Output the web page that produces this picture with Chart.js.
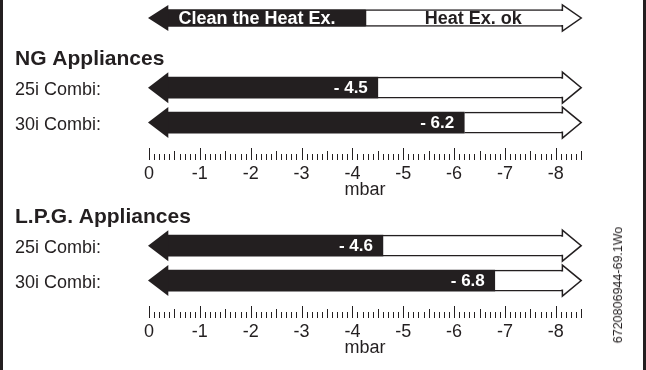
<!DOCTYPE html>
<html>
<head>
<meta charset="utf-8">
<script src="https://cdn.jsdelivr.net/npm/chart.js@4.4.1/dist/chart.umd.min.js"></script>
<style>
html, body { margin: 0; padding: 0; background: #fff; }
#wrap { position: relative; width: 646px; height: 370px; overflow: hidden; background: #fff; font-family: "Liberation Sans", Arial, sans-serif; }
canvas { position: absolute; left: 0; }
#bl { position: absolute; left: 0; top: 0; width: 2.5px; height: 370px; background: #231f20; }
#br { position: absolute; left: 642.5px; top: 0; width: 3.5px; height: 370px; background: #231f20; }
#code { position: absolute; left: 617.5px; top: 285px; transform: translate(-50%, -50%) rotate(-90deg); font-size: 12.5px; white-space: nowrap; color: #231f20; }
</style>
</head>
<body>
<div id="wrap">
  <canvas id="cTop" width="646" height="40" style="top:0px"></canvas>
  <canvas id="cNG" width="646" height="160" style="top:40px"></canvas>
  <canvas id="cLPG" width="646" height="160" style="top:198px"></canvas>
  <div id="bl"></div>
  <div id="br"></div>
  <div id="code">6720806944-69.1Wo</div>
</div>
<script>
// ---------------- data ----------------
const topSplit = [-4.25];
const topTexts = ['Clean the Heat Ex.', 'Heat Ex. ok'];
const sectionTitles = ['NG Appliances', 'L.P.G. Appliances'];
const ngCategories = ['25i Combi:', '30i Combi:'];
const ngValues = [-4.5, -6.2];
const lpgCategories = ['25i Combi:', '30i Combi:'];
const lpgValues = [-4.6, -6.8];
const axisTitle = 'mbar';
const scaleMin = -8.5;
const scaleMax = 0;
const tickStep = 1;

// ---------------- style ----------------
const FONT = '"Liberation Sans", Arial, sans-serif';
const INK = '#231f20';
const LEFT_BASE = -0.37;   // where left arrow head meets the body
const RIGHT_BASE = -8.13;  // where right arrow head meets the body

const arrowPlugin = {
  id: 'arrows',
  afterDatasetsDraw(chart, args, opts) {
    const x = chart.scales.x, y = chart.scales.y, ctx = chart.ctx;
    const n = chart.data.labels.length;
    ctx.save();
    for (let i = 0; i < n; i++) {
      const cy = y.getPixelForValue(i);
      const bh = opts.bodyHalf, hh = opts.headHalf;
      // left black head
      const tipL = x.getPixelForValue(scaleMax) - 1;
      const baseL = x.getPixelForValue(LEFT_BASE);
      ctx.fillStyle = INK;
      ctx.beginPath();
      ctx.moveTo(baseL + 0.5, cy - hh);
      ctx.lineTo(tipL, cy);
      ctx.lineTo(baseL + 0.5, cy + hh);
      ctx.closePath();
      ctx.fill();
      // right outlined head
      const tipR = x.getPixelForValue(scaleMin);
      const baseR = x.getPixelForValue(RIGHT_BASE);
      ctx.beginPath();
      ctx.moveTo(baseR, cy - bh + 0.75);
      ctx.lineTo(baseR, cy - hh);
      ctx.lineTo(tipR, cy);
      ctx.lineTo(baseR, cy + hh);
      ctx.lineTo(baseR, cy + bh - 0.75);
      ctx.closePath();
      ctx.fillStyle = '#fff';
      ctx.fill();
      ctx.beginPath();
      ctx.moveTo(baseR - 1, cy - bh + 0.75);
      ctx.lineTo(baseR, cy - bh + 0.75);
      ctx.lineTo(baseR, cy - hh);
      ctx.lineTo(tipR, cy);
      ctx.lineTo(baseR, cy + hh);
      ctx.lineTo(baseR, cy + bh - 0.75);
      ctx.lineTo(baseR - 1, cy + bh - 0.75);
      ctx.strokeStyle = INK;
      ctx.lineWidth = 1.5;
      ctx.lineJoin = 'miter';
      ctx.stroke();
      // value labels
      if (opts.values) {
        const v = opts.values[i];
        ctx.font = 'bold 17px ' + FONT;
        ctx.fillStyle = '#fff';
        ctx.textAlign = 'right';
        ctx.textBaseline = 'middle';
        ctx.fillText('- ' + Math.abs(v).toFixed(1), x.getPixelForValue(v) - 10, cy + 1);
      }
      if (opts.texts) {
        const s = opts.split[0];
        ctx.font = 'bold 18px ' + FONT;
        ctx.textAlign = 'center';
        ctx.textBaseline = 'middle';
        ctx.fillStyle = '#fff';
        ctx.fillText(opts.texts[0], x.getPixelForValue((scaleMax + s) / 2), cy + 1);
        ctx.fillStyle = INK;
        ctx.fillText(opts.texts[1], x.getPixelForValue((scaleMin + s) / 2), cy + 1);
      }
    }
    ctx.restore();
  }
};

const rulerPlugin = {
  id: 'ruler',
  afterDraw(chart, args, opts) {
    if (!opts.show) return;
    const x = chart.scales.x, ctx = chart.ctx;
    const base = x.top + 20;
    ctx.save();
    ctx.strokeStyle = INK;
    ctx.lineWidth = 1;
    const steps = Math.round((scaleMax - scaleMin) * 10);
    for (let k = 0; k <= steps; k++) {
      const px = Math.round(x.getPixelForValue(scaleMax - k / 10)) + 0.5;
      const len = k % 10 === 0 ? 12 : (k % 5 === 0 ? 9 : 6);
      ctx.beginPath();
      ctx.moveTo(px, base - len);
      ctx.lineTo(px, base);
      ctx.stroke();
    }
    ctx.restore();
  }
};

function barDatasets(values, thick) {
  return [
    {
      data: values.map(v => [LEFT_BASE, v]),
      backgroundColor: INK,
      borderWidth: 0,
      barThickness: thick,
      grouped: false
    },
    {
      data: values.map(v => [v, RIGHT_BASE]),
      backgroundColor: '#fff',
      borderColor: INK,
      borderWidth: { top: 1.5, bottom: 1.5, left: 0, right: 0 },
      borderSkipped: false,
      barThickness: thick,
      grouped: false
    }
  ];
}

function sectionChart(id, title, cats, values) {
  return new Chart(document.getElementById(id), {
    type: 'bar',
    data: { labels: cats, datasets: barDatasets(values, 21) },
    plugins: [arrowPlugin, rulerPlugin],
    options: {
      indexAxis: 'y',
      responsive: false,
      animation: false,
      events: [],
      layout: { padding: { left: 15, right: 646 - 581.2, top: 8, bottom: 3 } },
      plugins: {
        legend: { display: false },
        tooltip: { enabled: false },
        title: {
          display: true, text: title, align: 'start', color: INK,
          font: { family: FONT, size: 21, weight: 'bold', lineHeight: 1.06 },
          padding: { top: 0, bottom: 0 }
        },
        arrows: { bodyHalf: 10.5, headHalf: 15.5, values: values },
        ruler: { show: true }
      },
      scales: {
        x: {
          type: 'linear', min: scaleMin, max: scaleMax, reverse: true,
          grid: { display: false, drawTicks: false },
          border: { display: false },
          ticks: {
            stepSize: tickStep, includeBounds: false, autoSkip: false,
            maxRotation: 0, color: INK, padding: 25,
            font: { family: FONT, size: 18, lineHeight: 1 }
          },
          title: {
            display: true, text: axisTitle, color: INK,
            font: { family: FONT, size: 18, lineHeight: 0.78 },
            padding: { top: 0, bottom: 0 }
          },
          afterFit(scale) { scale.height = 57; }
        },
        y: {
          type: 'category', position: 'left',
          grid: { display: false, drawTicks: false },
          border: { display: false },
          ticks: { crossAlign: 'far', color: INK, padding: 0, labelOffset: 2, font: { family: FONT, size: 18 } },
          afterFit(scale) { scale.width = 134; }
        }
      }
    }
  });
}

// top indicator arrow
new Chart(document.getElementById('cTop'), {
  type: 'bar',
  data: {
    labels: [''],
    datasets: [
      { data: topSplit.map(s => [LEFT_BASE, s]), backgroundColor: INK, borderWidth: 0, barThickness: 17, grouped: false },
      { data: topSplit.map(s => [s, RIGHT_BASE]), backgroundColor: '#fff', borderColor: INK,
        borderWidth: { top: 1.5, bottom: 1.5, left: 1.5, right: 0 }, borderSkipped: false, barThickness: 17, grouped: false }
    ]
  },
  plugins: [arrowPlugin],
  options: {
    indexAxis: 'y',
    responsive: false,
    animation: false,
    events: [],
    layout: { padding: { left: 149, right: 646 - 581.2, top: 0, bottom: 4 } },
    plugins: {
      legend: { display: false },
      tooltip: { enabled: false },
      arrows: { bodyHalf: 8.5, headHalf: 13, texts: topTexts, split: topSplit }
    },
    scales: {
      x: { type: 'linear', min: scaleMin, max: scaleMax, reverse: true, display: false },
      y: { type: 'category', display: false }
    }
  }
});

sectionChart('cNG', sectionTitles[0], ngCategories, ngValues);
sectionChart('cLPG', sectionTitles[1], lpgCategories, lpgValues);
</script>
</body>
</html>
